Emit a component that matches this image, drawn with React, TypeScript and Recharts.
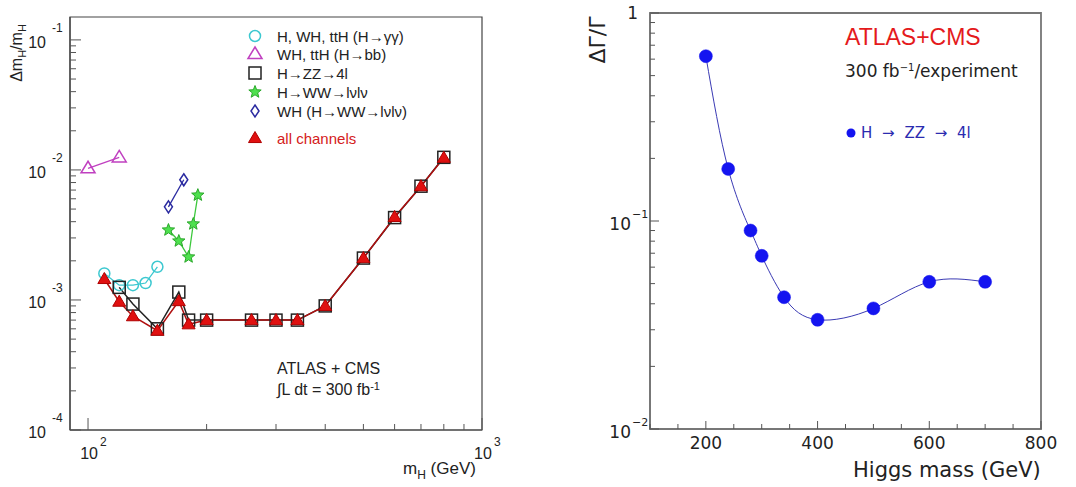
import React from "react";
import { LineChart, Line, XAxis, YAxis, ReferenceArea } from "recharts";

// left panel: relative mass resolution per channel (dm/m vs mH)
const gamgamMass = [110, 120, 130, 140, 150];
const gamgamRes = [1.6e-3, 1.3e-3, 1.3e-3, 1.35e-3, 1.8e-3];
const bbMass = [100, 120];
const bbRes = [1.03e-2, 1.25e-2];
const zzMass = [120, 130, 150, 170, 180, 200, 260, 300, 340, 400, 500, 600, 700, 800];
const zzRes = [1.25e-3, 9.3e-4, 6.0e-4, 1.15e-3, 7e-4, 7e-4, 7e-4, 7e-4, 7e-4, 9e-4, 2.1e-3, 4.3e-3, 7.5e-3, 1.25e-2];
const wwMass = [160, 170, 180, 185, 190];
const wwRes = [3.45e-3, 2.84e-3, 2.14e-3, 3.84e-3, 6.4e-3];
const whMass = [160, 175];
const whRes = [5.2e-3, 8.4e-3];
const allMass = [110, 120, 130, 150, 170, 180, 200, 260, 300, 340, 400, 500, 600, 700, 800];
const allRes = [1.45e-3, 9.7e-4, 7.5e-4, 5.8e-4, 9.8e-4, 6.5e-4, 7e-4, 7e-4, 7e-4, 7e-4, 9e-4, 2.1e-3, 4.35e-3, 7.5e-3, 1.24e-2];

// right panel: relative width precision, H -> ZZ -> 4l
const widthMass = [200, 240, 280, 300, 340, 400, 500, 600, 700];
const widthRel = [0.62, 0.178, 0.09, 0.068, 0.043, 0.0335, 0.038, 0.051, 0.051];

// axis decades and labels
const leftYDecades = [1e-4, 1e-3, 1e-2, 1e-1];
const leftYExp = ["-4", "-3", "-2", "-1"];
const leftXDecades = [100, 1000];
const leftXExp = ["2", "3"];
const rightYDecades = [0.01, 0.1, 1];
const rightYExp = ["\u22122", "\u22121", ""];
const rightXLabels = [200, 400, 600, 800];

const pts = (xs: number[], ys: number[]) => xs.map((m, i) => ({ m, v: ys[i] }));

const minorTicks = (decades: number[], max: number) =>
  decades.flatMap((d) => [1, 2, 3, 4, 5, 6, 7, 8, 9].map((k) => k * d)).filter((v) => v <= max * 1.0001);

const leftYTicks = minorTicks(leftYDecades, 0.15);
const leftXTicks = minorTicks([100], 1000).concat([1000]);
const rightYTicks = minorTicks([0.01, 0.1], 1).concat([1]);
const rightXTicks = [100, 150, 200, 250, 300, 350, 400, 450, 500, 550, 600, 650, 700, 750, 800];

const findDecade = (list: number[], v: number) => list.findIndex((d) => Math.abs(d - v) / d < 1e-6);

const SANS = "'Liberation Sans', Arial, sans-serif";
const DEJA = "'DejaVu Sans', sans-serif";

const Marker = ({ kind, cx, cy }: { kind: string; cx: number; cy: number }) => {
  if (cx == null || cy == null) return null;
  switch (kind) {
    case "circle":
      return <circle cx={cx} cy={cy} r={5.5} fill="none" stroke="#3cc8d0" strokeWidth={1.5} />;
    case "tri": {
      const s = 7;
      return (
        <polygon
          points={`${cx},${cy - s} ${cx + s},${cy + s * 0.65} ${cx - s},${cy + s * 0.65}`}
          fill="none"
          stroke="#c040c0"
          strokeWidth={1.5}
        />
      );
    }
    case "square":
      return <rect x={cx - 6} y={cy - 6} width={12} height={12} fill="none" stroke="#222" strokeWidth={1.5} />;
    case "star": {
      const p: string[] = [];
      for (let i = 0; i < 10; i++) {
        const r = i % 2 === 0 ? 6.5 : 2.8;
        const a = -Math.PI / 2 + (i * Math.PI) / 5;
        p.push(`${cx + r * Math.cos(a)},${cy + r * Math.sin(a)}`);
      }
      return <polygon points={p.join(" ")} fill="#4ee04e" stroke="#2aa82a" strokeWidth={1} />;
    }
    case "diamond":
      return (
        <polygon
          points={`${cx},${cy - 6} ${cx + 4},${cy} ${cx},${cy + 6} ${cx - 4},${cy}`}
          fill="none"
          stroke="#2a2aa0"
          strokeWidth={1.5}
        />
      );
    case "redtri": {
      const s = 6.5;
      return (
        <polygon
          points={`${cx},${cy - s} ${cx + s},${cy + s * 0.7} ${cx - s},${cy + s * 0.7}`}
          fill="#e01010"
          stroke="#b00000"
          strokeWidth={1}
        />
      );
    }
    default:
      return null;
  }
};

const dotOf = (kind: string) => (p: any) => <Marker key={`${kind}-${p.index}`} kind={kind} cx={p.cx} cy={p.cy} />;

const LeftYTick = (props: any) => {
  const { x, y, payload } = props;
  const idx = findDecade(leftYDecades, payload.value);
  const major = idx >= 0;
  return (
    <g>
      <line x1={x} x2={x + (major ? 11 : 6)} y1={y} y2={y} stroke="#555" />
      {major && (
        <>
          <text x={x - 24} y={y + 8} textAnchor="end" fontSize={16} fontFamily={SANS} fill="#222">
            10
          </text>
          <text x={x - 18} y={y - 8} fontSize={12} fontFamily={SANS} fill="#222">
            {leftYExp[idx]}
          </text>
        </>
      )}
    </g>
  );
};

const LeftXTick = (props: any) => {
  const { x, y, payload } = props;
  const idx = findDecade(leftXDecades, payload.value);
  const major = idx >= 0;
  return (
    <g>
      <line x1={x} x2={x} y1={y} y2={y - (major ? 12 : 6)} stroke="#555" />
      {major && (
        <>
          <text x={x + 1} y={y + 29} textAnchor="middle" fontSize={16} fontFamily={SANS} fill="#222">
            10
          </text>
          <text x={x + 12} y={y + 16} fontSize={12} fontFamily={SANS} fill="#222">
            {leftXExp[idx]}
          </text>
        </>
      )}
    </g>
  );
};

const RightYTick = (props: any) => {
  const { x, y, payload } = props;
  const idx = findDecade(rightYDecades, payload.value);
  const major = idx >= 0;
  const exp = major ? rightYExp[idx] : "";
  return (
    <g>
      <line x1={x} x2={x + (major ? 9 : 5)} y1={y} y2={y} stroke="#555" />
      {major &&
        (exp === "" ? (
          <text x={x - 12} y={y + 6} textAnchor="end" fontSize={17} fontFamily={DEJA} fill="#222">
            1
          </text>
        ) : (
          <>
            <text x={x - 19} y={y + 9} textAnchor="end" fontSize={17} fontFamily={DEJA} fill="#222">
              10
            </text>
            <text x={x - 18} y={y - 3} fontSize={11} fontFamily={DEJA} fill="#222">
              {exp}
            </text>
          </>
        ))}
    </g>
  );
};

const RightXTick = (props: any) => {
  const { x, y, payload } = props;
  const major = rightXLabels.includes(payload.value);
  return (
    <g>
      <line x1={x} x2={x} y1={y} y2={y - (major ? 8 : 5)} stroke="#555" />
      {major && (
        <text x={x} y={y + 20} textAnchor="middle" fontSize={17} fontFamily={DEJA} fill="#222">
          {payload.value}
        </text>
      )}
    </g>
  );
};

const abs = (left: number, top: number, extra: React.CSSProperties = {}): React.CSSProperties => ({
  position: "absolute",
  left,
  top,
  transform: "translateY(-50%)",
  whiteSpace: "pre",
  lineHeight: 1,
  ...extra,
});

const raised = (size: number, dy: number): React.CSSProperties => ({
  fontSize: size,
  position: "relative",
  top: dy,
  lineHeight: 0,
});

const legendRows = [
  { kind: "circle", label: "H, WH, ttH (H\u2192\u03b3\u03b3)", y: 36, color: "#222" },
  { kind: "tri", label: "WH, ttH (H\u2192bb)", y: 54, color: "#222" },
  { kind: "square", label: "H\u2192ZZ\u21924l", y: 73, color: "#222" },
  { kind: "star", label: "H\u2192WW\u2192l\u03bdl\u03bd", y: 92, color: "#222" },
  { kind: "diamond", label: "WH (H\u2192WW\u2192l\u03bdl\u03bd)", y: 111, color: "#222" },
  { kind: "redtri", label: "all channels", y: 138, color: "#d42020" },
];

export default function App() {
  return (
    <div style={{ position: "absolute", left: 0, top: 0, width: 1076, height: 487, background: "#fff", overflow: "hidden" }}>
      {/* left panel */}
      <div style={{ position: "absolute", left: 0, top: 0 }}>
        <LineChart width={540} height={487} margin={{ top: 17, right: 58, bottom: 0, left: 0 }}>
          <XAxis
            dataKey="m"
            type="number"
            scale="log"
            domain={[90, 1000]}
            allowDataOverflow
            ticks={leftXTicks}
            interval={0}
            tickSize={0}
            tickMargin={0}
            tick={LeftXTick}
            axisLine={{ stroke: "#444", strokeWidth: 1.2 }}
            height={57}
          />
          <YAxis
            type="number"
            scale="log"
            domain={[1e-4, 0.15]}
            allowDataOverflow
            ticks={leftYTicks}
            interval={0}
            tickSize={0}
            tickMargin={0}
            tick={LeftYTick}
            axisLine={{ stroke: "#444", strokeWidth: 1.2 }}
            width={70}
          />
          <ReferenceArea x1={90} x2={1000} y1={1e-4} y2={0.15} fill="none" stroke="#444" strokeWidth={1.2} />
          <Line data={pts(bbMass, bbRes)} dataKey="v" stroke="#c040c0" strokeWidth={1.3} dot={dotOf("tri")} activeDot={false} isAnimationActive={false} />
          <Line data={pts(gamgamMass, gamgamRes)} dataKey="v" stroke="#3cc8d0" strokeWidth={1.3} dot={dotOf("circle")} activeDot={false} isAnimationActive={false} />
          <Line data={pts(whMass, whRes)} dataKey="v" stroke="#2a2aa0" strokeWidth={1.3} dot={dotOf("diamond")} activeDot={false} isAnimationActive={false} />
          <Line data={pts(wwMass, wwRes)} dataKey="v" stroke="#3cc83c" strokeWidth={1.3} dot={dotOf("star")} activeDot={false} isAnimationActive={false} />
          <Line data={pts(zzMass, zzRes)} dataKey="v" stroke="#222" strokeWidth={1.5} dot={dotOf("square")} activeDot={false} isAnimationActive={false} />
          <Line data={pts(allMass, allRes)} dataKey="v" stroke="#b01010" strokeWidth={1.5} dot={dotOf("redtri")} activeDot={false} isAnimationActive={false} />
        </LineChart>
      </div>

      <div style={{ position: "absolute", left: 17, top: 53, transform: "translate(-50%, -50%) rotate(-90deg)", whiteSpace: "nowrap", fontFamily: SANS, fontSize: 16, color: "#222", lineHeight: 1 }}>
        {"\u0394m"}
        <span style={raised(11, 4)}>H</span>/m<span style={raised(11, 4)}>H</span>
      </div>
      <div style={abs(403, 468, { fontFamily: SANS, fontSize: 17, color: "#222" })}>
        m<span style={raised(12, 5)}>H</span> (GeV)
      </div>
      <div style={abs(277, 369, { fontFamily: SANS, fontSize: 16, color: "#222" })}>ATLAS + CMS</div>
      <div style={abs(277, 390, { fontFamily: SANS, fontSize: 16, color: "#222" })}>
        {"\u222bL dt = 300 fb"}
        <span style={raised(11, -5)}>-1</span>
      </div>
      {legendRows.map((r) => (
        <div key={r.label}>
          <svg style={{ position: "absolute", left: 245, top: r.y - 10 }} width={20} height={20}>
            <Marker kind={r.kind} cx={10} cy={10} />
          </svg>
          <div style={abs(277, r.y, { fontFamily: SANS, fontSize: 15, color: r.color })}>{r.label}</div>
        </div>
      ))}

      {/* right panel */}
      <div style={{ position: "absolute", left: 540, top: 0 }}>
        <LineChart width={536} height={487} margin={{ top: 13, right: 35, bottom: 0, left: 0 }}>
          <XAxis
            dataKey="m"
            type="number"
            domain={[100, 800]}
            allowDataOverflow
            ticks={rightXTicks}
            interval={0}
            tickSize={0}
            tickMargin={0}
            tick={RightXTick}
            axisLine={{ stroke: "#777", strokeWidth: 1.8 }}
            height={58}
          />
          <YAxis
            type="number"
            scale="log"
            domain={[0.01, 1]}
            allowDataOverflow
            ticks={rightYTicks}
            interval={0}
            tickSize={0}
            tickMargin={0}
            tick={RightYTick}
            axisLine={{ stroke: "#777", strokeWidth: 1.8 }}
            width={110}
          />
          <ReferenceArea x1={100} x2={800} y1={0.01} y2={1} fill="none" stroke="#777" strokeWidth={1.8} />
          <Line
            data={pts(widthMass, widthRel)}
            dataKey="v"
            type="natural"
            stroke="#3a3ab4"
            strokeWidth={1}
            dot={{ r: 6.5, fill: "#1414f0", stroke: "#1414f0", strokeWidth: 0.5 }}
            activeDot={false}
            isAnimationActive={false}
          />
        </LineChart>
      </div>

      <div style={{ position: "absolute", left: 598, top: 40, transform: "translate(-50%, -50%) rotate(-90deg)", whiteSpace: "nowrap", fontFamily: DEJA, fontSize: 22, color: "#222", lineHeight: 1 }}>
        {"\u0394\u0393/\u0393"}
      </div>
      <div style={abs(853, 470, { fontFamily: DEJA, fontSize: 21, color: "#222" })}>Higgs mass (GeV)</div>
      <div style={abs(845, 37, { fontFamily: SANS, fontSize: 23, color: "#e41a1c" })}>ATLAS+CMS</div>
      <div style={abs(845, 71, { fontFamily: DEJA, fontSize: 17, color: "#222" })}>
        300 fb<span style={raised(10, -6)}>{"\u22121"}</span>/experiment
      </div>
      <svg style={{ position: "absolute", left: 845, top: 127 }} width={12} height={12}>
        <circle cx={6} cy={6} r={4.5} fill="#1414f0" />
      </svg>
      <div style={abs(861, 133, { fontFamily: DEJA, fontSize: 15, color: "#2b2bb0", wordSpacing: 5 })}>
        {"H \u2192 ZZ \u2192 4l"}
      </div>
    </div>
  );
}
